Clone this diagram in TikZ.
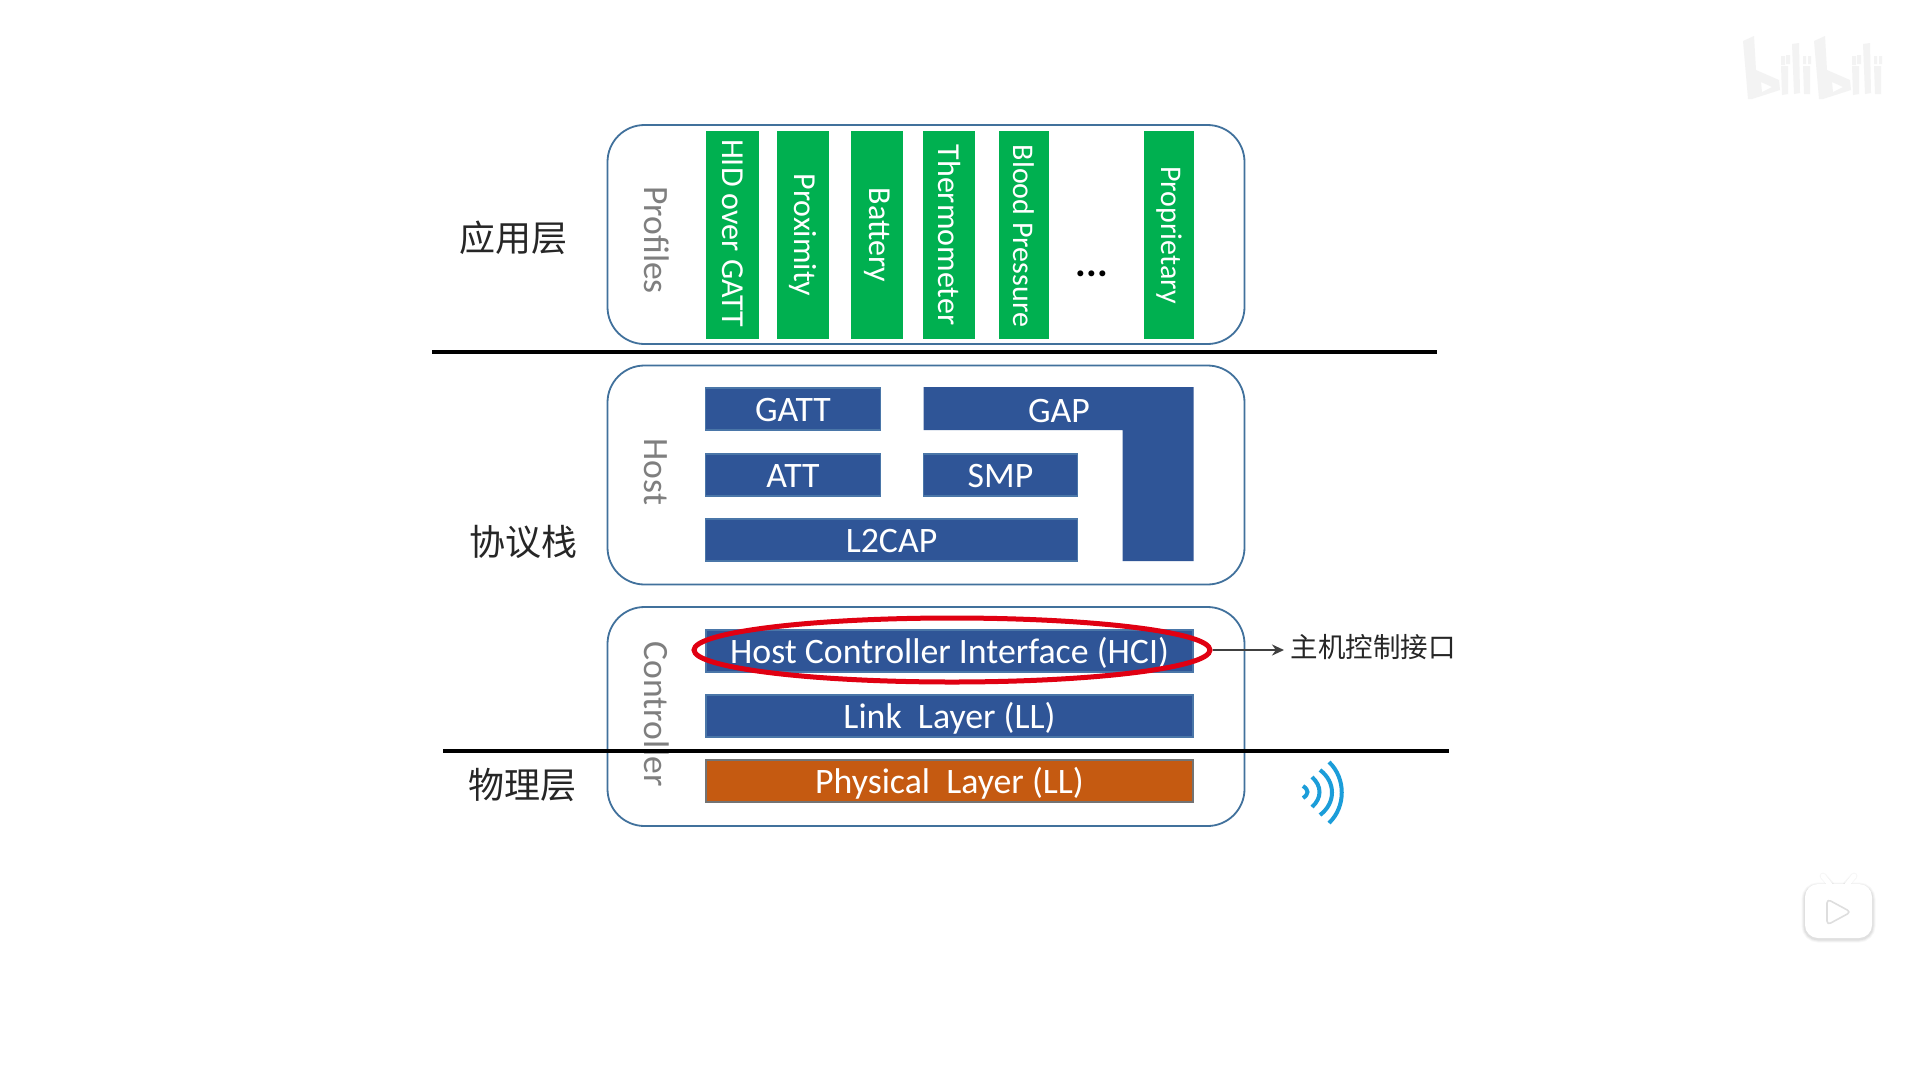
\documentclass[tikz,border=0pt]{standalone}
\usepackage{fontspec}
\setmainfont{Carlito}
\newfontfamily\cjkfont{Noto Sans CJK SC}
\usetikzlibrary{shapes.geometric,arrows.meta}
\definecolor{frameblue}{HTML}{41719C}
\definecolor{stackblue}{HTML}{2F5597}
\definecolor{edgeblue}{HTML}{4A76A8}
\definecolor{profgreen}{HTML}{00B050}
\definecolor{phyorange}{HTML}{C55A11}
\definecolor{wavecyan}{HTML}{1B9DD9}
\definecolor{ringred}{HTML}{E00012}
\definecolor{labelgrey}{HTML}{7F7F7F}
\definecolor{markgrey}{HTML}{F3F3F3}
\tikzset{
  x=1pt,y=-1pt,
  panel/.style={draw=frameblue,line width=1.8pt,fill=white,rounded corners=37pt,inner sep=0pt,minimum width=637pt,minimum height=219pt},
  greenbar/.style={fill=profgreen,inner sep=0pt,minimum height=208pt},
  vtext/.style={rotate=-90,inner sep=0pt,text=white,font=\fontsize{32}{32}\selectfont},
  vtextsmall/.style={vtext,font=\fontsize{30}{30}\selectfont},
  bluebox/.style={fill=stackblue,draw=edgeblue,line width=1.5pt,text=white,inner sep=0pt,minimum height=42pt,text height=27pt,text depth=3pt,font=\fontsize{35.8}{36}\selectfont},
  orangebox/.style={bluebox,fill=phyorange,draw=gray!90!black},
  sidelabel/.style={inner sep=0pt,text=labelgrey,rotate=-90,font=\fontsize{35.6}{36}\selectfont},
  layerlabel/.style={inner sep=0pt,text=black!85,font=\cjkfont\fontsize{36}{36}\selectfont},
  divider/.style={line width=3.4pt,black},
  wavearc/.style={draw=wavecyan,line width=4pt},
}
\begin{document}
\begin{tikzpicture}
\useasboundingbox (0,0) rectangle (1920,1080);
\fill[white] (0,0) rectangle (1920,1080);
% watermark
\foreach \dx in {0,71}{
  \begin{scope}[shift={(\dx,0)}]
  \fill[markgrey,even odd rule] (1743,41) -- (1754,36) -- (1756,70) -- (1779,80) -- (1780,90) -- (1752,99) -- (1748,99) -- cycle
     (1761,82) -- (1772,87) -- (1762,92) -- cycle;
  \fill[markgrey] (1781,65) -- (1785,65) -- (1785,56) -- (1781,56) -- cycle
     (1786,64) -- (1786,55) -- (1790,55) -- (1790,64) -- cycle
     (1781,66) -- (1788,66) -- (1788,94) -- (1782,95) -- cycle
     (1792,44) -- (1799,43) -- (1800,93) -- (1794,94) -- cycle
     (1803,66) -- (1810,66) -- (1810,94) -- (1804,94) -- cycle
     (1803,64) -- (1806,64) -- (1806,56) -- (1803,56) -- cycle
     (1808,64) -- (1811,64) -- (1811,56) -- (1808,56) -- cycle;
  \end{scope}
}
% tv icon
\foreach \o/\w in {0.03/7,0.04/5,0.05/3}{
  \draw[black,opacity=\o,line width=\w pt,rounded corners=13pt] (1805,886) rectangle (1872,939);
  \draw[black,opacity=\o,line width=\w pt,line cap=round] (1823,876) -- (1831,885);
  \draw[black,opacity=\o,line width=\w pt,line cap=round] (1854,876) -- (1846,885);
}
\draw[white,line width=5pt,line cap=round] (1823,876) -- (1831,886);
\draw[white,line width=5pt,line cap=round] (1854,876) -- (1846,886);
\fill[white,rounded corners=13pt] (1805,884) rectangle (1872,938);
\draw[black!13,line width=1.6pt,fill=white,rounded corners=4pt,line join=round] (1827,899) -- (1851,912) -- (1827,925) -- cycle;
% panels
\node[panel] (profiles) at (926,234.5) {};
\node[panel] (host) at (926,475) {};
\node[panel] (controller) at (926,716.5) {};
\node[sidelabel] (profileslabel) at (657,240) {Profiles};
\node[sidelabel] (hostlabel) at (656,472) {Host};
\node[sidelabel] (controllerlabel) at (657,714) {Controller};
% profiles
\node[greenbar,minimum width=53pt] (hid) at (732.5,235) {};
\node[vtext] (hidt) at (732.5,233) {HID over GATT};
\node[greenbar,minimum width=52pt] (prox) at (803,235) {};
\node[vtext] (proxt) at (803,235) {Proximity};
\node[greenbar,minimum width=52pt] (batt) at (877,235) {};
\node[vtext] (battt) at (877,235) {Battery};
\node[greenbar,minimum width=52pt] (thermo) at (949,235) {};
\node[vtext] (thermot) at (949.5,235) {Thermometer};
\node[greenbar,minimum width=50pt] (blood) at (1024,235) {};
\node[vtextsmall] (bloodt) at (1024,236) {Blood Pressure};
\node[greenbar,minimum width=50pt] (prop) at (1169,235) {};
\node[vtextsmall] (propt) at (1169,235) {Proprietary};
\node[inner sep=0pt,font=\bfseries\fontsize{40}{40}\selectfont] (dots) at (1092,274) {...};
% host
\node[bluebox,minimum width=175pt] (gatt) at (793,409) {GATT};
\fill[stackblue] (923.5,387) -- (1193.5,387) -- (1193.5,561) -- (1122.5,561) -- (1122.5,430) -- (923.5,430) -- cycle;
\node[inner sep=0pt,text=white,font=\fontsize{35.8}{36}\selectfont] (gap) at (1059,411) {GAP};
\node[bluebox,minimum width=175pt] (att) at (793,475) {ATT};
\node[bluebox,minimum width=154pt] (smp) at (1000.5,475) {SMP};
\node[bluebox,minimum width=372pt] (l2cap) at (891.5,540) {L2CAP};
% controller
\node[bluebox,minimum width=487pt] (hci) at (949.5,651) {Host Controller Interface (HCI)};
\node[bluebox,minimum width=487pt] (ll) at (949.5,716) {Link\ \ Layer (LL)};
\node[orangebox,minimum width=487pt] (phy) at (949.5,781) {Physical\ \ Layer (LL)};
% ring and callout
\node[ellipse,draw=ringred,line width=5pt,inner sep=0pt,minimum width=516pt,minimum height=64pt] (ring) at (952,650) {};
\node[inner sep=0pt,text=black!85,font=\cjkfont\fontsize{27.5}{27.5}\selectfont] (hcilabel) at (1373,647) {主机控制接口};
\coordinate (calloutend) at (1284,650);
\draw[line width=2.6pt,black!75,-{Stealth[length=12pt,width=11pt]}] (ring.east) -- (calloutend);
% dividers
\coordinate (d1l) at (432,352); \coordinate (d1r) at (1437,352);
\coordinate (d2l) at (443,751); \coordinate (d2r) at (1449,751);
\draw[divider] (d1l) -- (d1r);
\draw[divider] (d2l) -- (d2r);
% layer labels
\node[layerlabel] (applayer) at (513.5,238) {应用层};
\node[layerlabel] (stacklayer) at (523,542) {协议栈};
\node[layerlabel] (phylayer) at (522,785) {物理层};
% signal icon
\draw[wavearc] (1329,762) .. controls (1346,778) and (1346,807) .. (1329,823);
\draw[wavearc] (1320,770) .. controls (1336,782) and (1336,803) .. (1320,815);
\draw[wavearc] (1312,777) .. controls (1322,786) and (1322,798) .. (1312,807);
\draw[wavearc] (1303,786) .. controls (1309,790) and (1309,794) .. (1303,798);
\end{tikzpicture}
\end{document}
